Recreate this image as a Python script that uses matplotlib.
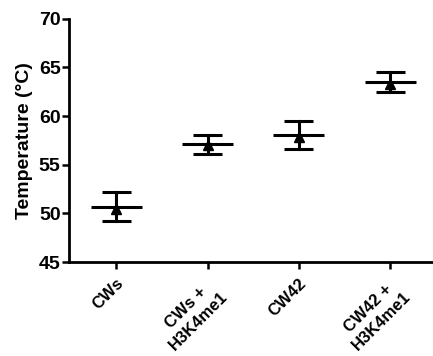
import numpy as np
import matplotlib
matplotlib.use('Agg')
import matplotlib.pyplot as plt

# values
groups = ['CWs', 'CWs +\nH3K4me1', 'CW42', 'CW42 +\nH3K4me1']
means = [50.7, 57.1, 58.1, 63.5]
errs = [1.45, 1.0, 1.45, 1.0]
points = [50.5, 57.0, 57.9, 63.3]

plt.rcParams['font.family'] = ['Liberation Sans', 'DejaVu Sans']
plt.rcParams['font.weight'] = 'bold'

fig = plt.figure(figsize=(4.33, 3.56), dpi=100)
ax = fig.add_axes([0.159, 0.264, 0.841, 0.683])

x = np.arange(len(groups))
halfw = 0.28
capw = 0.16
lw = 2.2
for xi, m, e, p in zip(x, means, errs, points):
    ax.plot([xi - halfw, xi + halfw], [m, m], color='black', lw=lw, solid_capstyle='butt')
    ax.plot([xi, xi], [m - e, m + e], color='black', lw=lw)
    ax.plot([xi - capw, xi + capw], [m + e, m + e], color='black', lw=lw, solid_capstyle='butt')
    ax.plot([xi - capw, xi + capw], [m - e, m - e], color='black', lw=lw, solid_capstyle='butt')
    ax.plot(xi, p, marker='^', color='black', markersize=7, zorder=3)

ax.set_xlim(-0.52, 3.47)
ax.set_ylim(45, 70)
ax.set_yticks([45, 50, 55, 60, 65, 70])
ax.set_xticks(x)
ax.set_xticklabels(groups, rotation=45, ha='right', va='top', rotation_mode='anchor',
                   multialignment='center', fontsize=12, linespacing=1.25)
ax.set_ylabel('Temperature (°C)', fontsize=14, fontweight='bold', labelpad=4)

for s in ['top', 'right']:
    ax.spines[s].set_visible(False)
for s in ['left', 'bottom']:
    ax.spines[s].set_linewidth(2)
ax.tick_params(axis='y', direction='out', length=5, width=1.8, labelsize=14, pad=1)
ax.tick_params(axis='x', direction='out', length=5, width=1.8, pad=5)

fig.savefig('out.png', dpi=100)
